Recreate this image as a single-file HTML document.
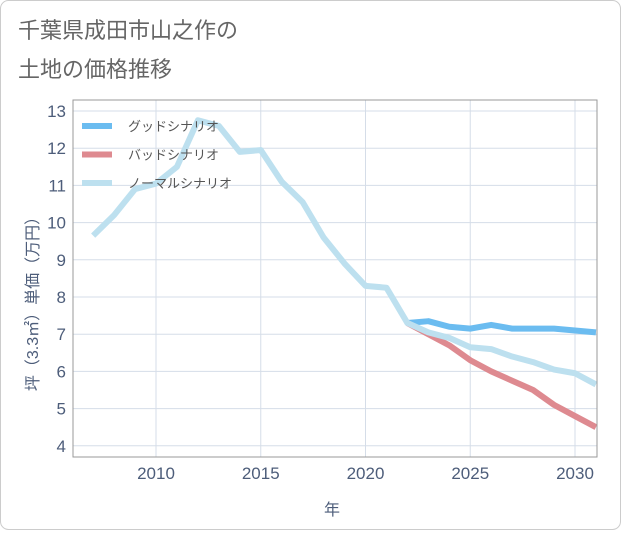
<!DOCTYPE html>
<html><head><meta charset="utf-8"><style>
body{margin:0;background:#fff;font-family:"Liberation Sans","Noto Sans CJK JP",sans-serif}
</style></head><body>
<svg width="621" height="530" xmlns="http://www.w3.org/2000/svg" id="svg">
<rect x="0.5" y="0.5" width="620" height="529" rx="8" fill="#fff" stroke="#ccc"/>
<text x="18" y="38" font-size="22" fill="#666" font-family="Liberation Sans,Noto Sans CJK JP,sans-serif">千葉県成田市山之作の</text>
<text x="18" y="77" font-size="22" fill="#666" font-family="Liberation Sans,Noto Sans CJK JP,sans-serif">土地の価格推移</text>
<g id="grid"></g>
<g id="lines"></g>
<rect x="73" y="100" width="524" height="357" fill="none" stroke="#999"/>
<text x="332" y="515" font-size="16" fill="#4d5d7a" text-anchor="middle" font-family="Liberation Sans,Noto Sans CJK JP,sans-serif">年</text>
<text transform="translate(38,300) rotate(-90)" font-size="16" fill="#4d5d7a" text-anchor="middle" font-family="Liberation Sans,Noto Sans CJK JP,sans-serif">坪（3.3㎡）単価（万円）</text>
<g id="legend"></g>
</svg>
<script>
const years=[2007,2008,2009,2010,2011,2012,2013,2014,2015,2016,2017,2018,2019,2020,2021,2022,2023,2024,2025,2026,2027,2028,2029,2030,2031];
const normal=[9.65,10.2,10.9,11.05,11.5,12.75,12.6,11.9,11.95,11.1,10.55,9.6,8.9,8.3,8.25,7.3,7.05,6.9,6.65,6.6,6.4,6.25,6.05,5.95,5.65];
const futureYears=[2022,2023,2024,2025,2026,2027,2028,2029,2030,2031];
const good=[7.3,7.35,7.2,7.15,7.25,7.15,7.15,7.15,7.1,7.05];
const bad=[7.3,7.0,6.7,6.3,6.0,5.75,5.5,5.1,4.8,4.5];
const yTicks=[4,5,6,7,8,9,10,11,12,13];
const xTicks=[2010,2015,2020,2025,2030];
const NS='http://www.w3.org/2000/svg';
const X=y=>156+(y-2010)*20.95;
const Y=v=>111+(13-v)*37.2;
const grid=document.getElementById('grid');
function mk(t,a,p){const e=document.createElementNS(NS,t);for(const k in a)e.setAttribute(k,a[k]);p.appendChild(e);return e;}
yTicks.forEach(v=>{
 const l=mk('line',{x1:73,x2:597,y1:Y(v),y2:Y(v),stroke:'#d5dde8'},grid);
 
 
 const t=mk('text',{x:66,y:Y(v)+6,'font-size':17,fill:'#4d5d7a','text-anchor':'end'},grid);t.textContent=v;
 
 
});
xTicks.forEach(v=>{
 const l=mk('line',{x1:X(v),x2:X(v),y1:100,y2:457,stroke:'#d5dde8'},grid);
 
 
 const t=mk('text',{x:X(v),y:479,'font-size':17,fill:'#4d5d7a','text-anchor':'middle'},grid);t.textContent=v;
 
 
});
const lines=document.getElementById('lines');
function series(xs,vs,c,n){const p=mk('polyline',{points:xs.map((x,i)=>X(x)+','+Y(vs[i])).join(' '),fill:'none',stroke:c,'stroke-width':6,'stroke-linejoin':'round'},lines);
 
 }
series(futureYears,good,'#6bbcf0','good-scenario-line');
series(futureYears,bad,'#de8a90','bad-scenario-line');
series(years,normal,'#bde0ef','normal-scenario-line');
const lg=document.getElementById('legend');
[['グッドシナリオ','#6bbcf0'],['バッドシナリオ','#de8a90'],['ノーマルシナリオ','#bde0ef']].forEach((d,i)=>{
 const y=126+i*28.5;
 const g=mk('g',{},lg);
 
 
 mk('rect',{x:82,y:y-3,width:30,height:6,fill:d[1]},g);
 const t=mk('text',{x:128,y:y+5,'font-size':13,fill:'#555'},g);t.textContent=d[0];
});
</script>
</body></html>
